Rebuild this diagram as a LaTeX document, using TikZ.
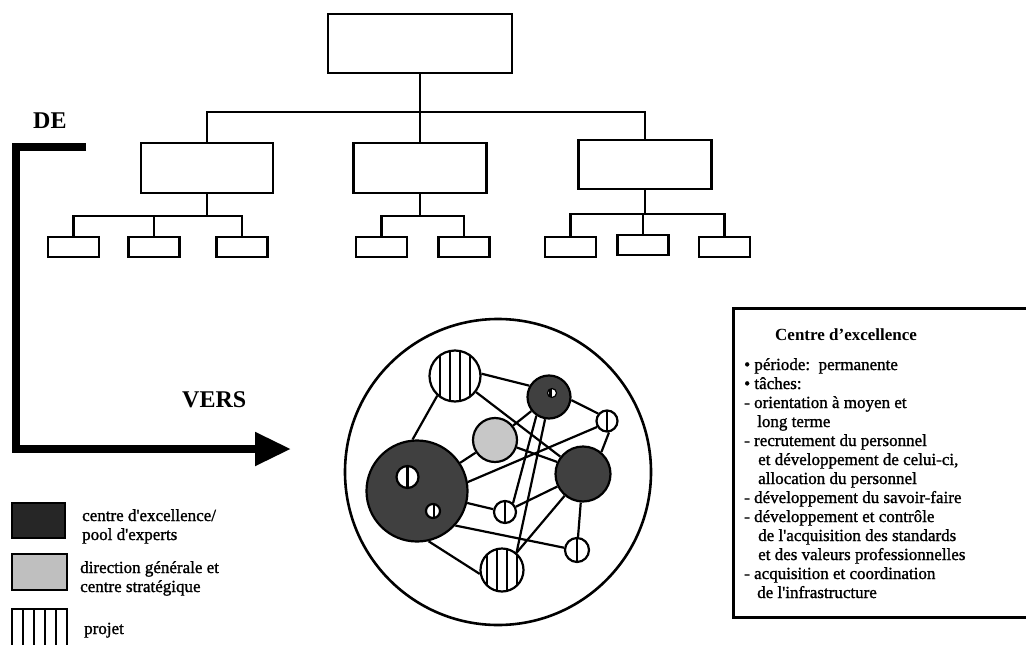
\documentclass[tikz,border=0pt]{standalone}
\usepackage{fontspec}
\setmainfont{Liberation Serif}
\newfontfamily\heavyserif[FakeBold=1.3]{Liberation Serif}
\usetikzlibrary{arrows.meta}
\begin{document}
\begin{tikzpicture}[x=1pt,y=-1pt,
  box/.style={draw, line width=2.4pt, inner sep=0pt},
  conn/.style={line width=2.2pt},
  link/.style={line width=2.2pt},
  stripes/.style={path picture={\foreach \dx in {#1}{\draw[line width=2.2pt]
      ([xshift=\dx pt]path picture bounding box.north) -- ([xshift=\dx pt]path picture bounding box.south);}}},
  dark/.style={circle, draw, line width=2.2pt, fill=black!75, inner sep=0pt, minimum size=#1},
  light/.style={circle, draw, line width=2.2pt, fill=black!22, inner sep=0pt, minimum size=#1},
  proj/.style n args={2}{circle, draw, line width=2.2pt, fill=white, inner sep=0pt,
      minimum size=#1, stripes={#2}},
  txt/.style={anchor=base west, inner sep=0pt, font=\heavyserif\fontsize{17}{19}\selectfont},
  head/.style={anchor=base west, inner sep=0pt, font=\fontsize{17}{19}\selectfont\bfseries},
  big/.style={anchor=base west, inner sep=0pt, font=\fontsize{24}{26}\selectfont\bfseries},
]
\useasboundingbox (0,0) rectangle (1026,645);

% ---------- hierarchy ----------
\node[box, minimum width=184, minimum height=59] (top) at (420,43.5) {};
\node[box, minimum width=132, minimum height=50] (m1) at (207,168) {};
\node[box, minimum width=133, minimum height=50] (m2) at (420,168) {};
\node[box, minimum width=133, minimum height=49] (m3) at (645,164.5) {};
\foreach \n/\x/\y in {s11/73.5/247, s12/154/247, s13/242/247,
                      s21/381.5/247, s22/464/247,
                      s31/570.5/247, s32/643/245, s33/724.5/247}
  \node[box, line width=2.6pt, minimum width=51, minimum height=20] (\n) at (\x,\y) {};

\coordinate (j0) at (420,112);
\coordinate (j1) at (207,216);
\coordinate (j2) at (420,216);
\coordinate (j3) at (645,214);
\draw[conn] (top) -- (j0);
\draw[conn] (m1.north) |- (j0) -| (m3.north);
\draw[conn] (j0) -- (m2);
\draw[conn] (m1) -- (j1);
\draw[conn] (s11.north) |- (j1) -| (s13.north);
\draw[conn] (s12.north) -- (s12.north |- j1);
\draw[conn] (m2) -- (j2);
\draw[conn] (s21.north) |- (j2) -| (s22.north);
\draw[conn] (m3) -- (j3);
\draw[conn] (s31.north) |- (j3) -| (s33.north);
\draw[conn] (s32.north) -- (s32.north |- j3);

% ---------- DE / VERS arrow ----------
\node[big] (de) at (33,128) {DE};
\node[big] (vers) at (182,407) {VERS};
\coordinate (a0) at (86,147);
\coordinate (a1) at (16,147);
\coordinate (a2) at (16,449);
\coordinate (a3) at (291,449);
\draw[line width=8pt, line join=miter, -{Triangle[length=36pt,width=32pt]}]
  (a0) -- (a1) -- (a2) -- (a3);

% ---------- network in a circle ----------
\node[circle, draw, line width=2.6pt, minimum size=306, inner sep=0pt] (world) at (498,472) {};
\node[proj={51}{-15,-5,5,15}] (c1) at (455,376) {};
\node[dark=43] (c2) at (549,397) {};
\node[proj={21}{0}] (c3) at (607,421) {};
\node[light=44] (c4) at (495,440) {};
\node[dark=101] (c5) at (417,491) {};
\node[dark=55] (c6) at (583,474) {};
\node[proj={22}{0}] (c7) at (505,512) {};
\node[proj={24}{0}] (c8) at (577,550) {};
\node[proj={43}{-15,-5,5,15}] (c9) at (502,570) {};
\node[proj={22}{0}] (c5a) at (407.5,477) {};
\node[proj={14}{1}] (c5b) at (433,511) {};
\node[circle, draw, line width=1.2pt, fill=white, inner sep=0pt, minimum size=9, stripes={-1.5}] (c2a) at (552,393) {};

\draw[link] (c1.5) -- (c2.150);
\draw[link] (c1.228) -- (c5.95);
\draw[link] (c1) -- (c6);
\draw[link] (c2.-8) -- (c3.140);
\draw[link] (c2) -- (c4);
\draw[link] (c2.236) -- (c7.48);
\draw[link] (c2.260) -- (c9.50);
\draw[link] (c3.280) -- (c6.50);
\draw[link] (c4) -- (c5);
\draw[link] (c4.-19) -- (c6.155);
\draw[link] (c5.10) -- (c3.211);
\draw[link] (c5) -- (c7);
\draw[link] (c5.-42) -- (c8.170);
\draw[link] (c5.-77) -- (c9.190);
\draw[link] (c6) -- (c7);
\draw[link] (c6) -- (c8);
\draw[link] (c6) -- (c9);

% ---------- legend ----------
\node[box, fill=black!85, minimum width=53, minimum height=35] (lg1) at (38.5,520.5) {};
\node[box, fill=black!25, minimum width=55, minimum height=36] (lg2) at (39.5,572) {};
\node[box, fill=white, minimum width=55, minimum height=44, stripes={-16.5,-5.5,5.5,16.5}] (lg3) at (39.5,631) {};
\node[txt] (t1a) at (82,521) {centre d'excellence/};
\node[txt] (t1b) at (82,540) {pool d'experts};
\node[txt] (t2a) at (80,573) {direction générale et};
\node[txt] (t2b) at (80,592) {centre stratégique};
\node[txt] (t3) at (84,634) {projet};

% ---------- description panel ----------
\node[draw, line width=2.6pt, inner sep=0pt, anchor=north west,
      minimum width=320, minimum height=309] (panel) at (732,307) {};
\node[head] (p0) at (775,340) {Centre d'excellence};
\node[txt] (p1) at (744,370) {• période:\ \ permanente};
\node[txt] (p2) at (744,389) {• tâches:};
\node[txt] (p3) at (744,408) {- orientation à moyen et};
\node[txt] (p4) at (757,427) {long terme};
\node[txt] (p5) at (744,446) {- recrutement du personnel};
\node[txt] (p6) at (758,465) {et développement de celui-ci,};
\node[txt] (p7) at (758,484) {allocation du personnel};
\node[txt] (p8) at (744,503) {- développement du savoir-faire};
\node[txt] (p9) at (744,522) {- développement et contrôle};
\node[txt] (p10) at (758,541) {de l'acquisition des standards};
\node[txt] (p11) at (758,560) {et des valeurs professionnelles};
\node[txt] (p12) at (744,579) {- acquisition et coordination};
\node[txt] (p13) at (757,598) {de l'infrastructure};
\end{tikzpicture}
\end{document}
